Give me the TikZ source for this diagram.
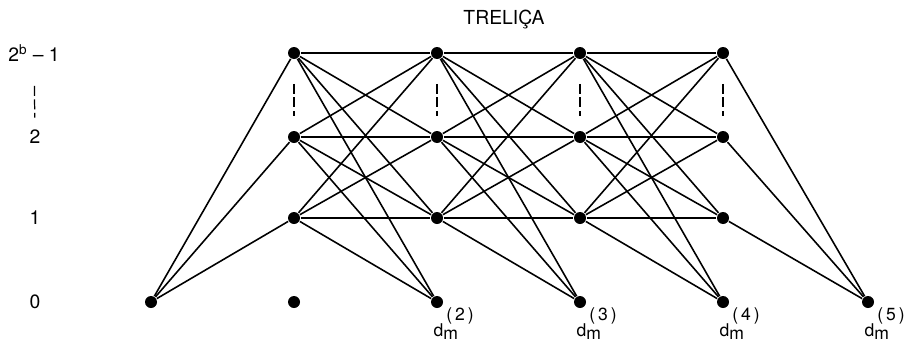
\documentclass[tikz,border=0pt]{standalone}
\usepackage{fontspec}
\setmainfont{TeX Gyre Heros}
\usetikzlibrary{positioning}
\tikzset{
  every picture/.style={line width=0.9pt, font=\fontsize{11}{13}\selectfont},
  state/.style={circle, fill=black, inner sep=0pt, minimum size=2.4mm},
  lvl/.style={inner sep=1pt},
  gap/.style={line width=0.7pt, dash pattern=on 0.2cm off 0.07cm},
  dlab/.style={inner sep=0pt, font=\fontsize{10}{12}\selectfont},
}
\newcommand{\dmlabel}[1]{d\rlap{\raisebox{-0.4ex}{m}}\hspace{0.6mm}\raisebox{1.7ex}{(\,#1\,)}}
\begin{document}
\begin{tikzpicture}[x=0.02cm, y=-0.02cm]
  % Trellis: states 0,1,2,...,2^b-1 over the stages; the end states carry d_m.
  \useasboundingbox (0,0) rectangle (911,345);
  \node at (504,20) {TRELIÇA};
  % levels on the left
  \node[lvl] (L3) at (34,53) {2\textsuperscript{b} -- 1};
  \node[lvl] (L2) at (35,137) {2};
  \node[lvl] (L1) at (35,218) {1};
  \node[lvl] (L0) at (35,302) {0};
  \draw[gap, shorten <=0.44cm, shorten >=0.2cm] (L3) -- (L2);
  % states
  \node[state] (S00) at (151,302) {};
  \foreach \c/\x in {1/294,2/437,3/580,4/723} {
    \foreach \r/\y in {0/302,1/218,2/137,3/53}
      \node[state] (S\c\r) at (\x,\y) {};
    \draw[gap, shorten <=0.48cm, shorten >=0.28cm] (S\c3) -- (S\c2);
  }
  \node[state] (S50) at (868,302) {};
  % branches
  \foreach \r in {1,2,3} {
    \draw (S00) -- (S1\r);
    \draw (S4\r) -- (S50);
  }
  \foreach \c [evaluate=\c as \n using int(\c+1)] in {1,2,3}
    \foreach \a in {1,2,3}
      \foreach \b in {0,...,3}
        \draw (S\c\a) -- (S\n\b);
  % end states
  \foreach \k in {2,...,5}
    \node[dlab, below right=0mm and -1.8mm of S\k0] (D\k) {\dmlabel{\k}};
\end{tikzpicture}
\end{document}
